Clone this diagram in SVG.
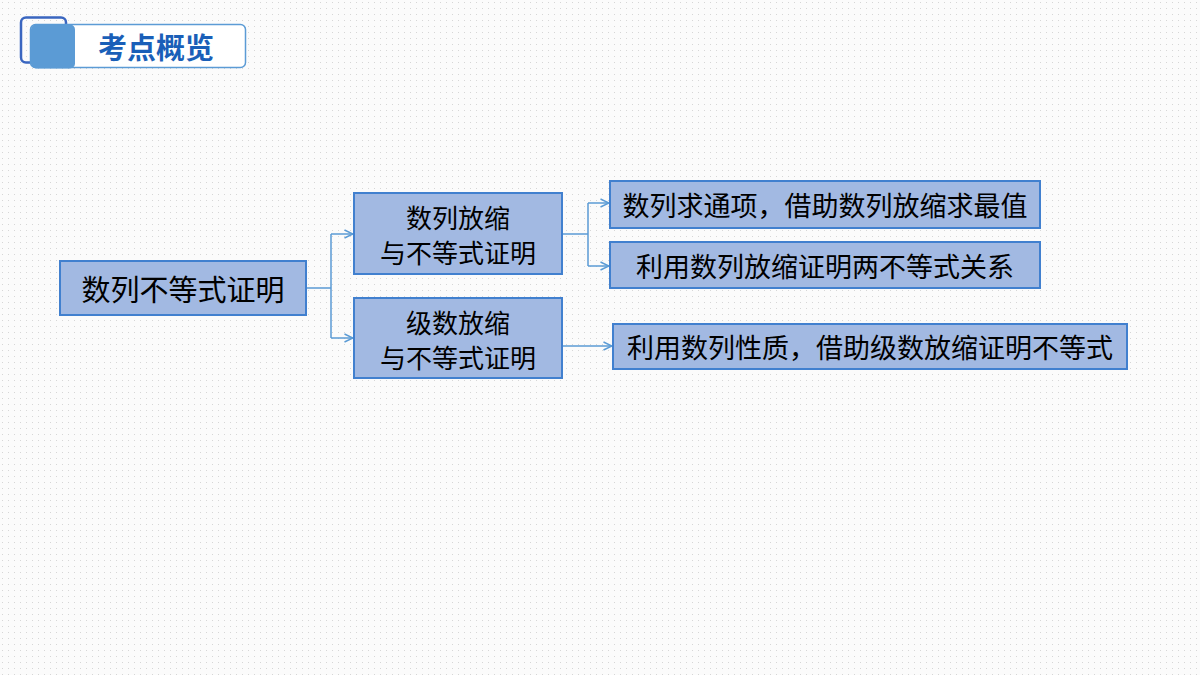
<svg xmlns="http://www.w3.org/2000/svg" width="1200" height="675" viewBox="0 0 1200 675">
<defs>
<pattern id="dots" width="6" height="6" patternUnits="userSpaceOnUse">
<rect width="6" height="6" fill="#fbfbfb"/>
<rect x="2" y="2" width="1" height="1" fill="#d6d6d6"/>
</pattern>
<marker id="arr" viewBox="0 0 10 10" refX="9.5" refY="5" markerWidth="10" markerHeight="10" markerUnits="userSpaceOnUse" orient="auto">
<path d="M1,1 L9.5,5 L1,9" fill="none" stroke="#5b9bd5" stroke-width="1.5"/>
</marker>
<style>
.node rect{fill:#a2b9e2;stroke:#4180cf;stroke-width:2}
.node text{font-family:"Noto Sans CJK SC","Noto Sans",sans-serif;font-size:27px;fill:#000;text-anchor:middle;dominant-baseline:central}
.node text.two{font-size:26px}
.conn path{fill:none;stroke:#5b9bd5;stroke-width:1.5}
</style>
</defs>
<rect width="1200" height="675" fill="url(#dots)"/>
<g id="header">
<rect x="21" y="17.5" width="45" height="45" rx="5" fill="none" stroke="#3a66c0" stroke-width="2.5"/>
<rect x="30.5" y="24.5" width="215" height="43" rx="5" fill="#ffffff" stroke="#5b9bd5" stroke-width="1.5"/>
<rect x="31" y="24.5" width="44" height="44" rx="5" fill="#5b9bd5"/>
<text x="156" y="46" font-family="'Noto Sans CJK SC',sans-serif" font-size="29" font-weight="bold" fill="#1a5fb8" text-anchor="middle" dominant-baseline="central">考点概览</text>
</g>
<g id="connectors" class="conn">
<path d="M306,288 H331 M331,234 V338"/>
<path d="M331,234 H353" marker-end="url(#arr)"/>
<path d="M331,338 H353" marker-end="url(#arr)"/>
<path d="M562,234 H588 M588,203 V266"/>
<path d="M588,203 H609" marker-end="url(#arr)"/>
<path d="M588,266 H609" marker-end="url(#arr)"/>
<path d="M562,346 H612" marker-end="url(#arr)"/>
</g>
<g id="n-root" class="node">
<rect x="60" y="261" width="246" height="54"/>
<text x="183" y="288" style="font-size:29px">数列不等式证明</text>
</g>
<g id="n-seq" class="node">
<rect x="354" y="193" width="208" height="81"/>
<text class="two" x="458" y="216">数列放缩</text>
<text class="two" x="458" y="251">与不等式证明</text>
</g>
<g id="n-series" class="node">
<rect x="354" y="298" width="208" height="80"/>
<text class="two" x="458" y="321">级数放缩</text>
<text class="two" x="458" y="356">与不等式证明</text>
</g>
<g id="n-a" class="node">
<rect x="610" y="181" width="430" height="47"/>
<text x="825" y="204">数列求通项，借助数列放缩求最值</text>
</g>
<g id="n-b" class="node">
<rect x="610" y="242" width="430" height="46"/>
<text x="825" y="265">利用数列放缩证明两不等式关系</text>
</g>
<g id="n-c" class="node">
<rect x="613" y="324" width="514" height="45"/>
<text x="870" y="346">利用数列性质，借助级数放缩证明不等式</text>
</g>
</svg>
